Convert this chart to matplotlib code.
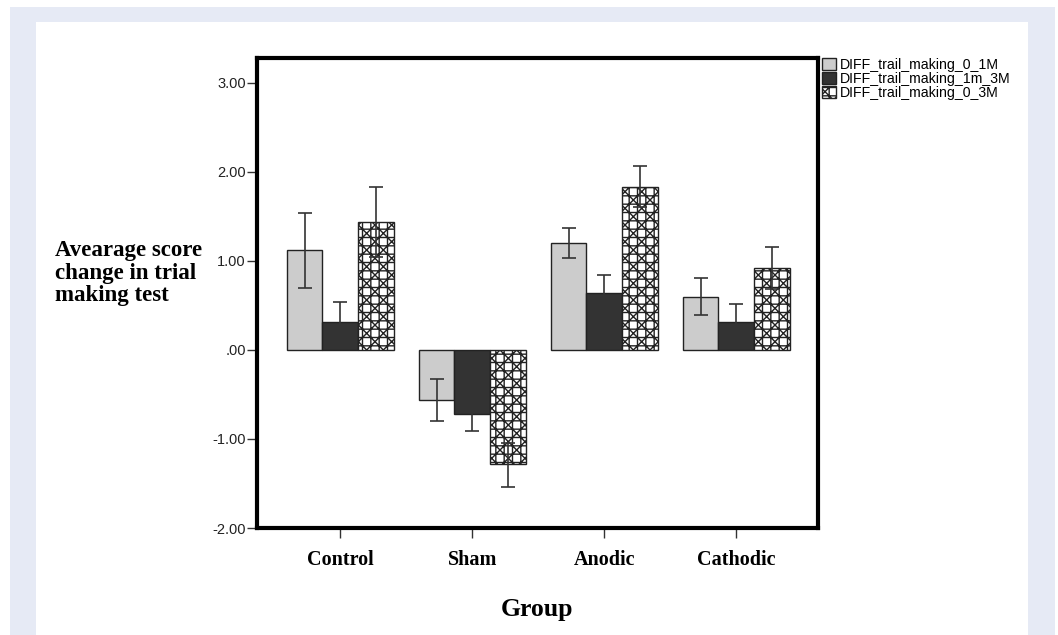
import numpy as np
import matplotlib.pyplot as plt
from matplotlib.patches import Rectangle

# groups and series
groups = ["Control", "Sham", "Anodic", "Cathodic"]
series = ["DIFF_trail_making_0_1M", "DIFF_trail_making_1m_3M", "DIFF_trail_making_0_3M"]

means = {
    "DIFF_trail_making_0_1M":  [1.12, -0.56, 1.20, 0.60],
    "DIFF_trail_making_1m_3M": [0.31, -0.72, 0.64, 0.31],
    "DIFF_trail_making_0_3M":  [1.44, -1.28, 1.83, 0.92],
}
err_low = {
    "DIFF_trail_making_0_1M":  [0.70, -0.80, 1.03, 0.39],
    "DIFF_trail_making_1m_3M": [0.09, -0.91, 0.44, 0.11],
    "DIFF_trail_making_0_3M":  [1.04, -1.54, 1.61, 0.69],
}
err_high = {
    "DIFF_trail_making_0_1M":  [1.54, -0.33, 1.37, 0.81],
    "DIFF_trail_making_1m_3M": [0.54, -0.54, 0.84, 0.52],
    "DIFF_trail_making_0_3M":  [1.83, -1.04, 2.07, 1.16],
}
yticks = [-2.0, -1.0, 0.0, 1.0, 2.0, 3.0]
ytick_labels = ["-2.00", "-1.00", ".00", "1.00", "2.00", "3.00"]

W, H = 1058, 635
plt.rcParams["hatch.linewidth"] = 1.0
fig = plt.figure(figsize=(W / 100, H / 100), dpi=100)
fig.patch.set_facecolor("white")
# page frame
fig.patches.append(Rectangle((10 / W, 0), 1045 / W, 628 / H, transform=fig.transFigure,
                             facecolor="#e6eaf5", edgecolor="none", zorder=-2))
fig.patches.append(Rectangle((36 / W, 0), 992 / W, 613 / H, transform=fig.transFigure,
                             facecolor="white", edgecolor="none", zorder=-1))

ax = fig.add_axes([257 / W, 1 - 528 / H, (818 - 257) / W, (528 - 58) / H])

styles = [
    dict(facecolor="#cccccc", hatch=None),
    dict(facecolor="#333333", hatch=None),
    dict(facecolor="white", hatch="xx++"),
]
x = np.arange(len(groups))
w = 0.27
for i, s in enumerate(series):
    pos = x + (i - 1) * w
    m = np.array(means[s])
    lo = m - np.array(err_low[s])
    hi = np.array(err_high[s]) - m
    ax.bar(pos, m, width=w, color=styles[i]["facecolor"], edgecolor="#222222",
           linewidth=1.0, hatch=styles[i]["hatch"], label=s, zorder=2)
    ax.errorbar(pos, m, yerr=[lo, hi], fmt="none", ecolor="#333333",
                elinewidth=1.2, capsize=5, capthick=1.2, zorder=3)

ax.set_xlim(-0.63, 3.62)
ax.set_ylim(-2.0, 3.28)
ax.set_yticks(yticks)
ax.set_yticklabels(ytick_labels, fontsize=10.5, family="Liberation Sans", color="#222222")
ax.set_xticks(x)
ax.set_xticklabels(groups, fontsize=14.5, family="Liberation Serif", fontweight="bold")
ax.tick_params(axis="y", length=7, width=1, color="#333333", pad=1)
ax.tick_params(axis="x", length=7, width=1, color="#333333", pad=9)
for sp in ax.spines.values():
    sp.set_linewidth(3)
    sp.set_color("black")

ax.set_xlabel("Group", fontsize=18.5, family="Liberation Serif", fontweight="bold", labelpad=20)
fig.text(55 / W, 1 - 240 / H, "Avearage score\nchange in trial\nmaking test",
         fontsize=16.5, family="Liberation Serif", fontweight="bold",
         ha="left", va="top", linespacing=1.1)

leg = ax.legend(loc="upper left", bbox_to_anchor=(0.995, 1.015), frameon=False,
                prop={"family": "Liberation Sans", "size": 10.2},
                handlelength=1.0, handleheight=0.85, handletextpad=0.25,
                labelspacing=0.0, borderaxespad=0.1)

fig.savefig("out.png", dpi=100)
